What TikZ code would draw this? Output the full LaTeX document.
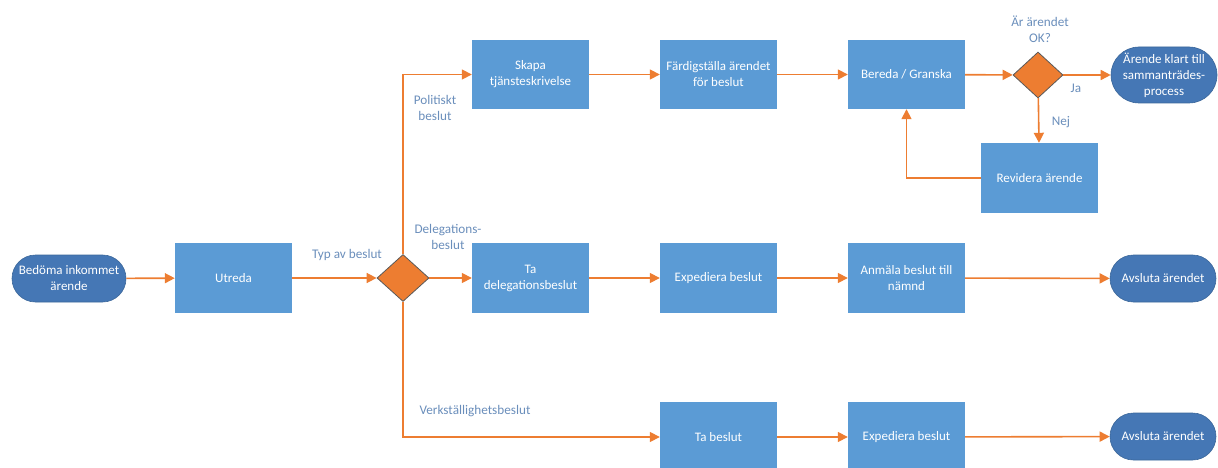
\documentclass[tikz,border=0pt]{standalone}
\usepackage{fontspec}
\setmainfont{Carlito}
\usetikzlibrary{arrows.meta,shapes.geometric,shapes.misc}
\definecolor{boxblue}{HTML}{5B9BD5}
\definecolor{termblue}{HTML}{4577B5}
\definecolor{termedge}{HTML}{3A6699}
\definecolor{flow}{HTML}{ED7D31}
\definecolor{lbl}{HTML}{6A8EBB}
\tikzset{
  stepbox/.style={rectangle, fill=boxblue, draw=none, text=white, minimum width=117pt, minimum height=70pt, align=center, inner sep=2pt, font=\fontsize{13}{16}\selectfont},
  term/.style={rounded rectangle, fill=termblue, draw=termedge, line width=0.6pt, text=white, minimum height=47pt, align=center, inner sep=2pt, font=\fontsize{13}{16}\selectfont},
  choice/.style={diamond, fill=flow, draw=gray!70!black, line width=0.8pt, minimum width=52pt, minimum height=47pt, inner sep=0pt},
  lab/.style={text=lbl, align=center, inner sep=1pt, font=\fontsize{13.2}{16}\selectfont},
  arr/.style={draw=flow, line width=1.6pt, -{Triangle[length=10pt,width=10pt]}},
}
\begin{document}
\begin{tikzpicture}[x=1pt,y=-1pt]
\useasboundingbox (0,0) rectangle (1218,468);
\clip (0,0) rectangle (1218,468);
% row 1
\node[term, minimum width=118pt] (start) at (69,278.5) {Bedöma inkommet\\ärende};
\node[stepbox] (utreda) at (233.5,278) {Utreda};
\node[choice] (d1) at (403,278) {};
\node[stepbox, minimum height=69pt] (skapa) at (530.5,74.5) {Skapa\\tjänsteskrivelse};
\node[stepbox, minimum height=69pt] (fard) at (718.5,74.5) {Färdigställa ärendet\\för beslut};
\node[stepbox, minimum height=69pt] (bereda) at (906.5,74.5) {Bereda / Granska};
\node[choice, minimum width=50pt, minimum height=46pt] (d2) at (1038,75) {};
\node[term, minimum width=110pt, minimum height=56pt] (klart) at (1164,75) {Ärende klart till\\sammanträdes-\\process};
\node[stepbox] (revidera) at (1039.5,178) {Revidera ärende};
% row 2
\node[stepbox] (tadel) at (530.5,278) {Ta\\delegationsbeslut};
\node[stepbox] (exp1) at (718.5,278) {Expediera beslut};
\node[stepbox] (anmala) at (906.5,278) {Anmäla beslut till\\nämnd};
\node[term, minimum width=110pt] (avs1) at (1163,278.5) {Avsluta ärendet};
% row 3
\node[stepbox] (tabeslut) at (718.5,437) {Ta beslut};
\node[stepbox] (exp2) at (906.5,437) {Expediera beslut};
\node[term, minimum width=110pt] (avs2) at (1163,436.5) {Avsluta ärendet};
% labels
\node[lab] (ltyp) at (347,255) {Typ av beslut};
\node[lab] (lpol) at (435,108) {Politiskt\\beslut};
\node[lab] (ldel) at (448,237) {Delegations-\\beslut};
\node[lab] (lverk) at (475,411) {Verkställighetsbeslut};
\node[lab] (lok) at (1040,29) {Är ärendet\\OK?};
\node[lab] (lja) at (1076,88) {Ja};
\node[lab] (lnej) at (1061,122) {Nej};
% connectors
\draw[arr] (start) -- (utreda);
\draw[arr] (utreda) -- (d1);
\draw[arr] (d1.north) |- (skapa.west);
\draw[arr] (d1) -- (tadel);
\draw[arr] (d1.south) |- (tabeslut.west);
\draw[arr] (skapa) -- (fard);
\draw[arr] (fard) -- (bereda);
\draw[arr] (bereda) -- (d2);
\draw[arr] (d2) -- (klart);
\draw[arr] (d2) -- (revidera);
\draw[arr] (revidera.west) -| (bereda.south);
\draw[arr] (tadel) -- (exp1);
\draw[arr] (exp1) -- (anmala);
\draw[arr] (anmala) -- (avs1);
\draw[arr] (tabeslut) -- (exp2);
\draw[arr] (exp2) -- (avs2);
\end{tikzpicture}
\end{document}
